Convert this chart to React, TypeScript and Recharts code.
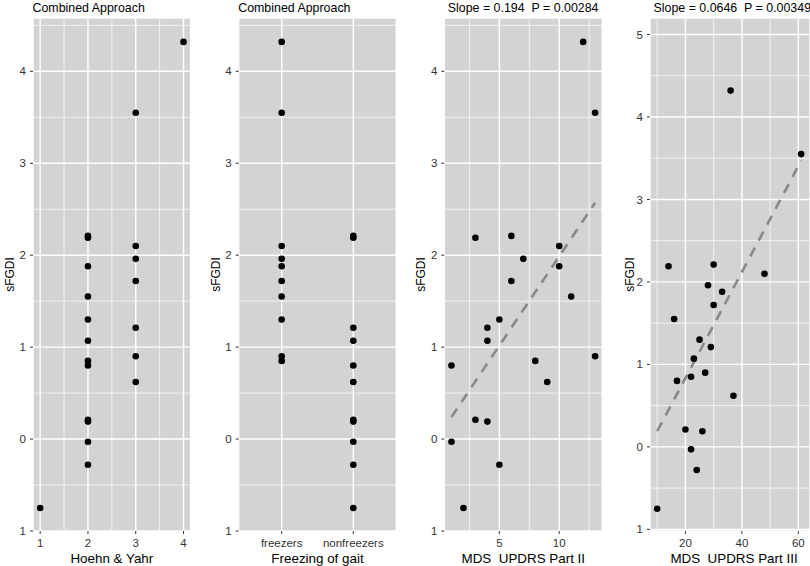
import {
  CartesianGrid,
  Label,
  ReferenceLine,
  Scatter,
  ScatterChart,
  XAxis,
  YAxis,
} from "recharts";

const FONT = '"Liberation Sans", Arial, Helvetica, sans-serif';

// sFGDI per subject; the clinical measures below use the same subject order
const SFGDI = [
  4.32, 3.55, 2.21, 2.19, 2.1, 1.96, 1.88, 1.72, 1.55, 1.3, 1.21, 1.07, 0.9,
  0.85, 0.8, 0.62, 0.21, 0.19, -0.03, -0.28, -0.75,
];
const HOEHN_YAHR = [4, 3, 2, 2, 3, 3, 2, 3, 2, 2, 3, 2, 3, 2, 2, 3, 2, 2, 2, 2, 1];
const FOG_GROUPS = ["freezers", "nonfreezers"];
const FOG = [
  "freezers", "freezers", "nonfreezers", "nonfreezers", "freezers", "freezers",
  "freezers", "freezers", "freezers", "freezers", "nonfreezers", "nonfreezers",
  "freezers", "freezers", "nonfreezers", "nonfreezers", "nonfreezers",
  "nonfreezers", "nonfreezers", "nonfreezers", "nonfreezers",
];
const UPDRS_II = [12, 13, 6, 3, 10, 7, 10, 6, 11, 5, 4, 4, 13, 8, 1, 9, 3, 4, 1, 5, 2];
const UPDRS_III = [36, 61, 30, 14, 48, 28, 33, 30, 16, 25, 29, 23, 27, 22, 17, 37, 20, 26, 22, 24, 10];

// fitted lines, end points at the range of the data
const TREND_II = [
  { x: 1, y: 0.24 },
  { x: 13, y: 2.57 },
];
const TREND_III = [
  { x: 10, y: 0.19 },
  { x: 61, y: 3.47 },
];

const Y_TICKS = [-1, 0, 1, 2, 3, 4];
const Y_TICKS_WIDE = [-1, 0, 1, 2, 3, 4, 5];
const Y_MINOR = [-0.5, 0.5, 1.5, 2.5, 3.5, 4.5];
const HY_TICKS = [1, 2, 3, 4];
const HY_MINOR = [1.5, 2.5, 3.5];
const FOG_TICKS = [1, 2];
const U2_TICKS = [5, 10];
const U2_MINOR = [2.5, 7.5, 12.5];
const U3_TICKS = [20, 40, 60];
const U3_MINOR = [10, 30, 50];

const H = 566;

type Pt = { x: number; y: number };

type PanelProps = {
  left: number;
  width: number;
  yWidth: number;
  rightPad: number;
  xs: number[];
  xDomain: [number, number];
  xTicks: number[];
  xMinor: number[];
  xFormat?: (v: number) => string;
  yDomain: [number, number];
  yTicks: number[];
  xTitle: string;
  xTitleDx?: number;
  title: string;
  titleDx: number;
  yTitleX: number;
  trend?: Pt[];
};

const Dot = (props: any) => (
  <circle cx={props.cx} cy={props.cy} r={3.3} fill="#000" />
);

// the tick labels print without a minus sign
const yFormat = (v: number) => String(Math.abs(v));

function Panel(p: PanelProps) {
  const data = p.xs.map((x, i) => ({ x, y: SFGDI[i] }));
  const tick = { fontSize: 11.5, fill: "#333", fontFamily: FONT };
  return (
    <div
      style={{
        position: "absolute",
        left: p.left,
        top: 0,
        width: p.width,
        height: H,
        overflow: "hidden",
      }}
    >
      <ScatterChart
        width={p.width}
        height={H}
        margin={{ top: 18, right: p.rightPad, bottom: 0, left: 0 }}
      >
        <CartesianGrid stroke="#fff" strokeWidth={1.4} fill="#d3d3d3" fillOpacity={1} />
        {p.xMinor.map((v) => (
          <ReferenceLine key={"x" + v} x={v} stroke="#fff" strokeWidth={0.7} />
        ))}
        {Y_MINOR.map((v) => (
          <ReferenceLine key={"y" + v} y={v} stroke="#fff" strokeWidth={0.7} />
        ))}
        <XAxis
          type="number"
          dataKey="x"
          domain={p.xDomain}
          ticks={p.xTicks}
          allowDataOverflow
          height={35}
          axisLine={false}
          tickSize={3}
          tickMargin={5}
          tickLine={{ stroke: "#333" }}
          tick={tick}
          tickFormatter={p.xFormat}
          interval={0}
        >
          <Label
            content={(lp: any) => {
              const vb = lp.viewBox;
              return (
                <text
                  x={vb.x + vb.width / 2 + (p.xTitleDx ?? 0)}
                  y={vb.y + 31.7}
                  textAnchor="middle"
                  fontSize={13.4}
                  fontFamily={FONT}
                  fill="#000"
                  style={{ whiteSpace: "pre" }}
                >
                  {p.xTitle}
                </text>
              );
            }}
          />
        </XAxis>
        <YAxis
          type="number"
          dataKey="y"
          domain={p.yDomain}
          ticks={p.yTicks}
          allowDataOverflow
          width={p.yWidth}
          axisLine={false}
          tickSize={3}
          tickMargin={4}
          tickLine={{ stroke: "#333" }}
          tick={tick}
          tickFormatter={yFormat}
          interval={0}
        >
          <Label
            content={(lp: any) => {
              const vb = lp.viewBox;
              const cx = p.yTitleX;
              const cy = vb.y + vb.height / 2;
              return (
                <text
                  x={cx}
                  y={cy}
                  dy="0.36em"
                  textAnchor="middle"
                  fontSize={12}
                  fontFamily={FONT}
                  fill="#000"
                  transform={`rotate(-90 ${cx} ${cy})`}
                >
                  sFGDI
                </text>
              );
            }}
          />
        </YAxis>
        {p.trend && (
          <ReferenceLine
            segment={p.trend}
            stroke="#888"
            strokeWidth={2.6}
            strokeDasharray="10 8"
          />
        )}
        <Scatter data={data} shape={Dot} isAnimationActive={false} />
      </ScatterChart>
      <div
        style={{
          position: "absolute",
          left: p.yWidth + p.titleDx,
          top: 1,
          fontFamily: FONT,
          fontSize: 12.4,
          lineHeight: "14px",
          color: "#000",
          whiteSpace: "pre",
        }}
      >
        {p.title}
      </div>
    </div>
  );
}

export default function App() {
  const fogIndex = FOG.map((g) => FOG_GROUPS.indexOf(g) + 1);
  return (
    <div
      style={{
        position: "absolute",
        left: 0,
        top: 0,
        width: 810,
        height: H,
        background: "#fff",
        overflow: "hidden",
      }}
    >
      <Panel
        left={0}
        width={200}
        yWidth={33}
        rightPad={9.3}
        xs={HOEHN_YAHR}
        xDomain={[0.85, 4.15]}
        xTicks={HY_TICKS}
        xMinor={HY_MINOR}
        yDomain={[-1, 4.58]}
        yTicks={Y_TICKS}
        xTitle="Hoehn & Yahr"
        title="Combined Approach"
        titleDx={-0.5}
        yTitleX={10}
      />
      <Panel
        left={205}
        width={200}
        yWidth={33.7}
        rightPad={8.7}
        xs={fogIndex}
        xDomain={[0.4, 2.6]}
        xTicks={FOG_TICKS}
        xMinor={[]}
        xFormat={(v) => FOG_GROUPS[v - 1] ?? ""}
        yDomain={[-1, 4.58]}
        yTicks={Y_TICKS}
        xTitle="Freezing of gait"
        title="Combined Approach"
        titleDx={-0.5}
        yTitleX={10.5}
      />
      <Panel
        left={410}
        width={200}
        yWidth={34.3}
        rightPad={7.7}
        xs={UPDRS_II}
        xDomain={[0.4, 13.6]}
        xTicks={U2_TICKS}
        xMinor={U2_MINOR}
        yDomain={[-1, 4.58]}
        yTicks={Y_TICKS}
        xTitle="MDS  UPDRS Part II"
        title="Slope = 0.194  P = 0.00284"
        titleDx={3.5}
        yTitleX={11}
        trend={TREND_II}
      />
      <Panel
        left={615}
        width={195}
        yWidth={35}
        rightPad={0}
        xs={UPDRS_III}
        xDomain={[7.45, 64.13]}
        xTicks={U3_TICKS}
        xMinor={U3_MINOR}
        yDomain={[-1.02, 5.2]}
        yTicks={Y_TICKS_WIDE}
        xTitle="MDS  UPDRS Part III"
        xTitleDx={4}
        title="Slope = 0.0646  P = 0.00349"
        titleDx={3.5}
        yTitleX={15}
        trend={TREND_III}
      />
    </div>
  );
}
